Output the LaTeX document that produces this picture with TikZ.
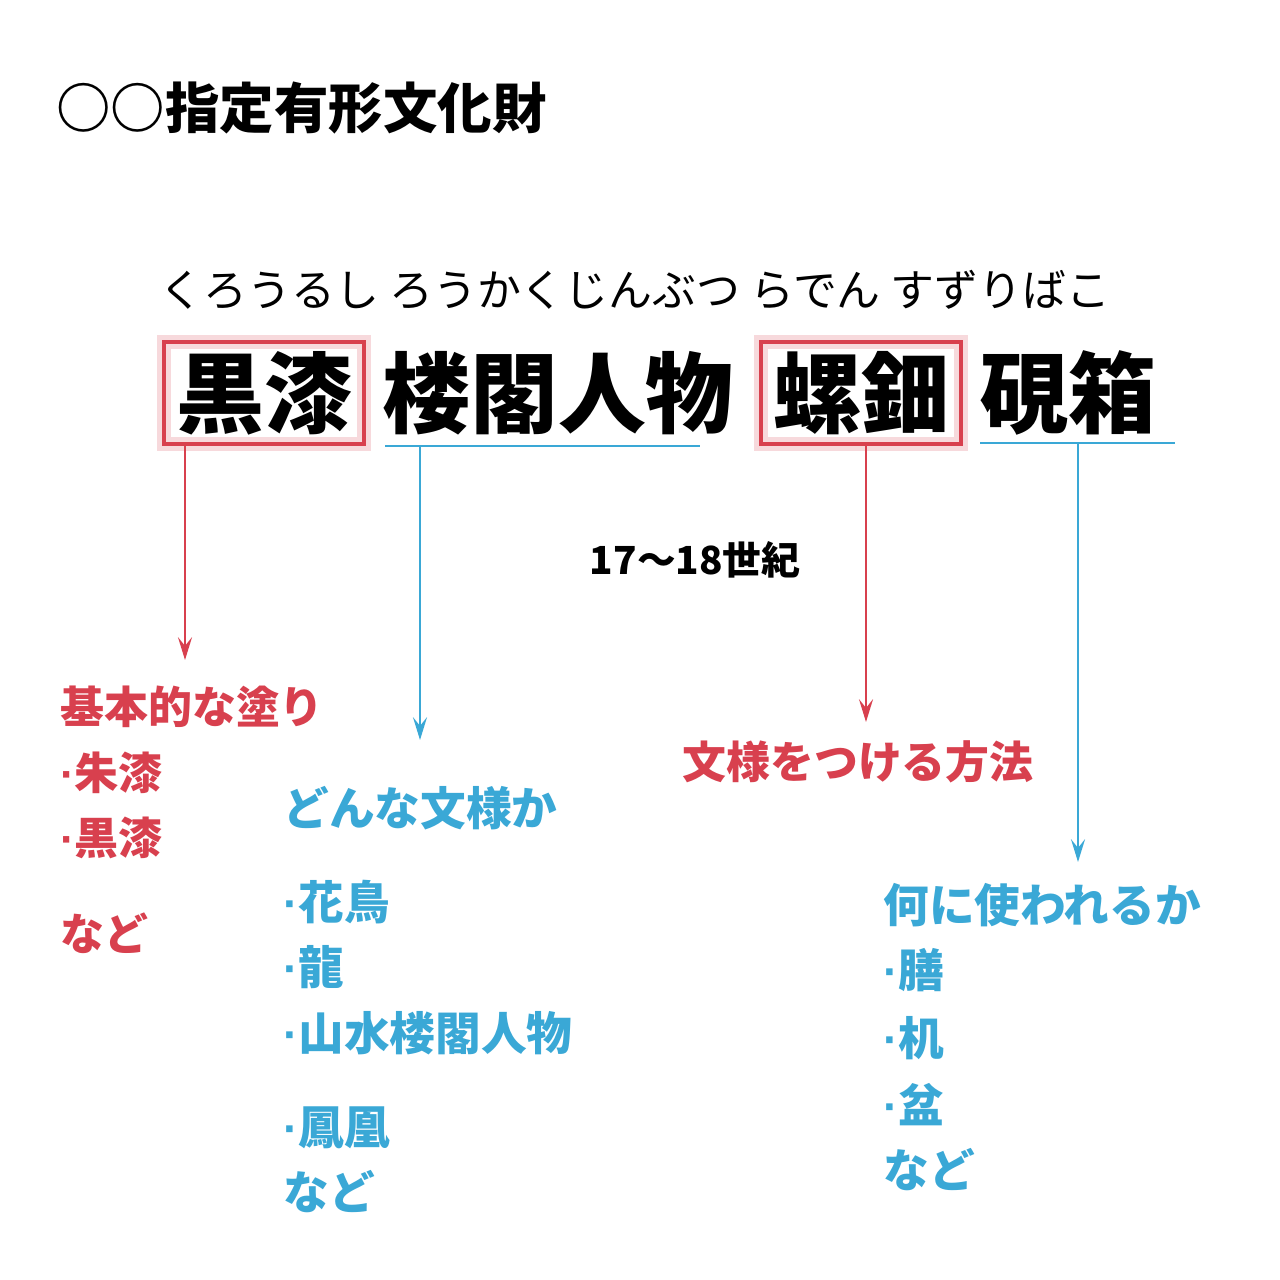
\documentclass[tikz,border=0pt]{standalone}
\usepackage{fontspec}
\setmainfont{Noto Sans CJK JP}
\newfontfamily\dotfont{Liberation Sans}
\newcommand{\pt}{{\dotfont\bfseries ·}}
\usetikzlibrary{positioning, arrows.meta}
\definecolor{kred}{HTML}{D8404E}
\definecolor{kblue}{HTML}{3AA8D6}
\tikzset{
x=0.02cm, y=-0.02cm,
big/.style={font=\fontsize{50}{50}\selectfont\bfseries, inner sep=0pt},
redtxt/.style={anchor=west, text=kred, inner sep=0pt, font=\fontsize{25}{25}\selectfont\bfseries},
bluetxt/.style={anchor=west, text=kblue, inner sep=0pt, font=\fontsize{26}{26}\selectfont\bfseries},
redbox/.style={draw=kred, line width=2.5pt, minimum width=4cm, minimum height=2.04cm},
down/.style={-{Stealth[length=13pt, width=8pt, inset=5pt]}, line width=1.3pt},
}
\begin{document}
\begin{tikzpicture}
\useasboundingbox[fill=white] (0,0) rectangle (1280,1280);
% title
\node[anchor=west, inner sep=0pt, font=\fontsize{31}{31}\selectfont\bfseries] (title) at (56,108) {○○指定有形文化財};
% reading
\node[inner sep=0pt, font=\fontsize{25}{25}\selectfont] (kana) at (635,290) {くろうるし ろうかくじんぶつ らでん すずりばこ};
% name of the piece
\draw[kred!20, line width=8pt] (164,342) rectangle (364,444);
\draw[kred!20, line width=8pt] (761,342) rectangle (961,444);
\node[redbox] (kuro) at (264,393) {};
\node[big] at (kuro) {黒漆};
\node[big] (roukaku) at (558,393) {楼閣人物};
\node[redbox] (raden) at (861,393) {};
\node[big] at (raden) {螺鈿};
\node[big] (suzuri) at (1068,393) {硯箱};
\coordinate (u1) at (385,446);
\coordinate (u2) at (700,446);
\coordinate (u3) at (980,443);
\coordinate (u4) at (1175,443);
\draw[kblue, line width=1.5pt] (u1) -- (u2);
\draw[kblue, line width=1.5pt] (u3) -- (u4);
\node[inner sep=0pt, font=\fontsize{22}{22}\selectfont\bfseries] (era) at (695,560) {17〜18世紀};
% arrows
\coordinate (e1) at (185,660);
\coordinate (s2) at (420,447);
\coordinate (e2) at (420,740);
\coordinate (e3) at (866,722);
\coordinate (s4) at (1078,444);
\coordinate (e4) at (1078,862);
\draw[down, kred] (kuro.south -| e1) -- (e1);
\draw[down, kblue] (s2) -- (e2);
\draw[down, kred] (raden.south -| e3) -- (e3);
\draw[down, kblue] (s4) -- (e4);
% red notes
\node[redtxt] (nuri) at (60,707) {基本的な塗り};
\node[redtxt] (shu) at (60,773) {\pt 朱漆};
\node[redtxt] (koku) at (60,838) {\pt 黒漆};
\node[redtxt] (nado1) at (60,933) {など};
\node[redtxt] (houhou) at (682,762) {文様をつける方法};
% blue notes
\node[bluetxt] (monyou) at (283,808) {どんな文様か};
\node[bluetxt] (kachou) at (283,902) {\pt 花鳥};
\node[bluetxt] (ryuu) at (283,967) {\pt 龍};
\node[bluetxt] (sansui) at (283,1033) {\pt 山水楼閣人物};
\node[bluetxt] (houou) at (283,1128) {\pt 鳳凰};
\node[bluetxt] (nado2) at (283,1192) {など};
\node[bluetxt] (tsukau) at (883,905) {何に使われるか};
\node[bluetxt] (zen) at (883,970) {\pt 膳};
\node[bluetxt] (tsukue) at (883,1038) {\pt 机};
\node[bluetxt] (bon) at (883,1105) {\pt 盆};
\node[bluetxt] (nado3) at (883,1170) {など};
\end{tikzpicture}
\end{document}
